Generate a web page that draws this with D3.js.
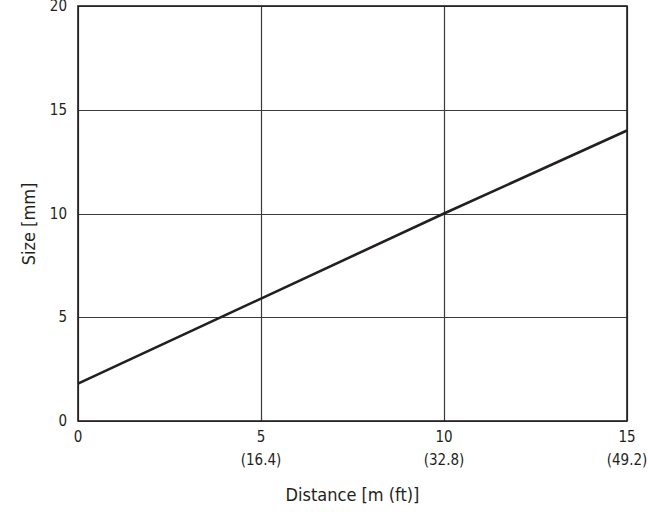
<!DOCTYPE html>
<html><head><meta charset="utf-8">
<script src="https://cdn.jsdelivr.net/npm/d3@7"></script>
<style>
html,body{margin:0;padding:0;background:#fff;}
text{font-family:"Liberation Sans Narrow","DejaVu Sans Condensed","Roboto Condensed",sans-serif;fill:#231f20;}
</style></head>
<body>
<svg id="chart" width="648" height="512"></svg>
<script>
const distances = [0, 5, 10, 15];
const sizes = [1.8, 5.9, 10.0, 14.0];
const xTicks = [0, 5, 10, 15];
const xTickFeet = ["", "(16.4)", "(32.8)", "(49.2)"];
const yTicks = [0, 5, 10, 15, 20];
const xTitle = "Distance [m (ft)]";
const yTitle = "Size [mm]";

const svg = d3.select("#chart");
const m = {left: 78, right: 21, top: 6, bottom: 91};
const W = 648, H = 512;
const x = d3.scaleLinear().domain([0, 15]).range([m.left, W - m.right]);
const y = d3.scaleLinear().domain([0, 20]).range([H - m.bottom, m.top]);

// grid
const g = svg.append("g");
g.selectAll("line.vx").data(xTicks).join("line")
  .attr("x1", d => Math.round(x(d)) + 0.5).attr("x2", d => Math.round(x(d)) + 0.5)
  .attr("y1", y(0)).attr("y2", y(20)).attr("stroke", "#3a3a3a").attr("stroke-width", 1.2);
g.selectAll("line.hy").data(yTicks).join("line")
  .attr("y1", d => Math.round(y(d)) + 0.5).attr("y2", d => Math.round(y(d)) + 0.5)
  .attr("x1", x(0)).attr("x2", x(15)).attr("stroke", "#3a3a3a").attr("stroke-width", 1.2);
// frame
svg.append("rect").attr("x", x(0)).attr("y", y(20)).attr("width", x(15) - x(0)).attr("height", y(0) - y(20))
  .attr("fill", "none").attr("stroke", "#231f20").attr("stroke-width", 1.6);

// data line
svg.append("path").datum(distances.map((d, i) => [d, sizes[i]]))
  .attr("d", d3.line().x(d => x(d[0])).y(d => y(d[1])))
  .attr("fill", "none").attr("stroke", "#231f20").attr("stroke-width", 2.6);

// x tick labels
const xl = svg.append("g").attr("font-size", 15).attr("text-anchor", "middle");
xl.selectAll("text.m").data(xTicks).join("text")
  .attr("x", d => x(d)).attr("y", y(0) + 21).text(d => d);
xl.selectAll("text.f").data(xTicks).join("text")
  .attr("x", d => x(d)).attr("y", y(0) + 44).text((d, i) => xTickFeet[i]);

// y tick labels
svg.append("g").attr("font-size", 15).attr("text-anchor", "end")
  .selectAll("text").data(yTicks).join("text")
  .attr("x", x(0) - 11).attr("y", d => y(d) + 5).text(d => d);

// titles
svg.append("text").attr("x", (x(0) + x(15)) / 2).attr("y", 501).attr("text-anchor", "middle")
  .attr("font-size", 18).text(xTitle);
svg.append("text").attr("transform", "translate(35,224) rotate(-90)").attr("text-anchor", "middle")
  .attr("font-size", 18).text(yTitle);
</script>
</body></html>
